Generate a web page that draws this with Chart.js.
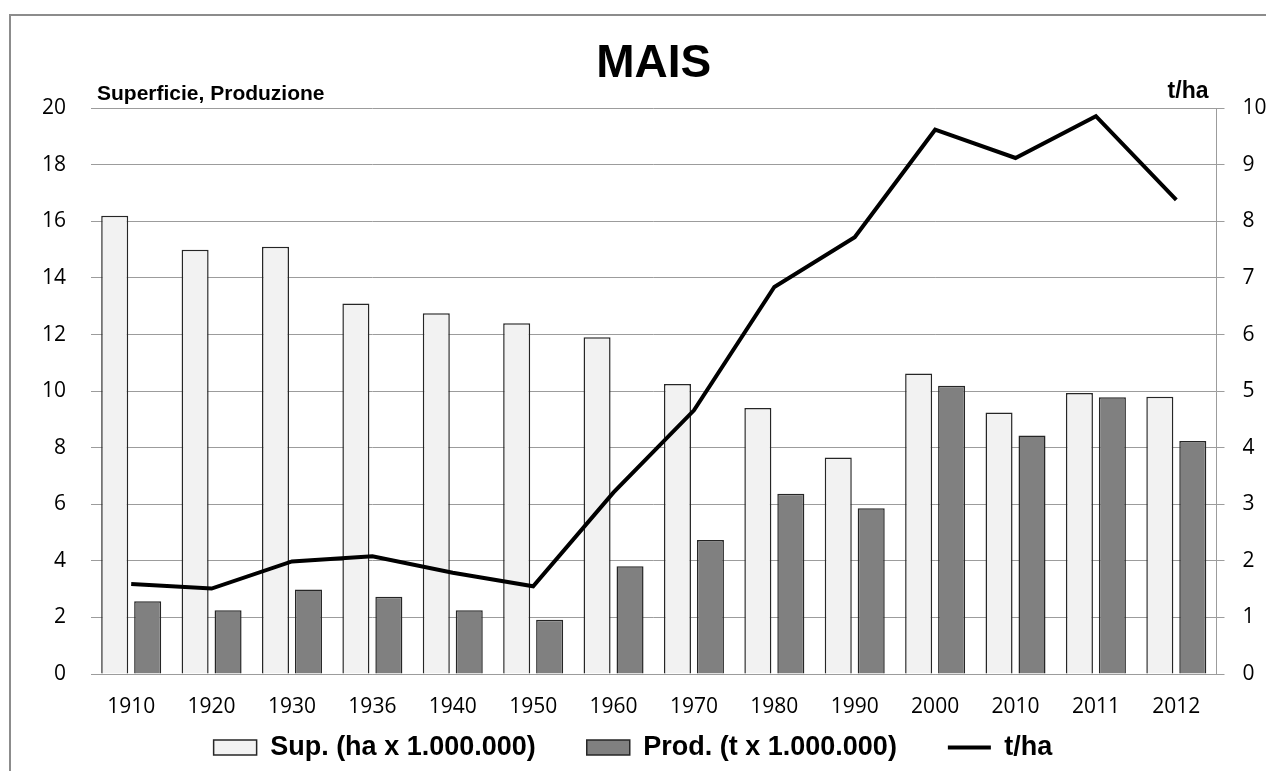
<!DOCTYPE html>
<html>
<head>
<meta charset="utf-8">
<script src="https://cdn.jsdelivr.net/npm/chart.js@4/dist/chart.umd.min.js"></script>
<style>
  html, body { margin: 0; padding: 0; background: #ffffff; }
  #wrap { width: 1266px; height: 771px; }
</style>
</head>
<body>
<div id="wrap"><canvas id="c" width="1266" height="771"></canvas></div>
<script>
// ---- data ----
const categories = ['1910','1920','1930','1936','1940','1950','1960','1970','1980','1990','2000','2010','2011','2012'];
const superficie = [16.2, 15.0, 15.1, 13.1, 12.75, 12.4, 11.9, 10.25, 9.4, 7.65, 10.62, 9.24, 9.93, 9.8];
const produzione = [2.57, 2.25, 2.99, 2.73, 2.25, 1.92, 3.81, 4.74, 6.37, 5.86, 10.19, 8.43, 9.78, 8.24];
const resa = [1.59, 1.51, 1.99, 2.08, 1.79, 1.55, 3.21, 4.66, 6.84, 7.72, 9.62, 9.12, 9.86, 8.38];
const seriesNames = ['Sup. (ha x 1.000.000)', 'Prod. (t x 1.000.000)', 't/ha'];
const chartTitle = 'MAIS';
const leftAxisTitle = 'Superficie, Produzione';
const rightAxisTitle = 't/ha';

const GRID = '#9c9c9c';
const BAR_BORDER = '#262626';
const BOLD_FONT = '"Liberation Sans", Arial, sans-serif';
const TICK_FONT = '"Open Sans", "DejaVu Sans", sans-serif';

const framePlugin = {
  id: 'frame',
  beforeDraw(chart) {
    const ctx = chart.ctx;
    ctx.save();
    ctx.fillStyle = '#ffffff';
    ctx.fillRect(0, 0, chart.width, chart.height);
    ctx.strokeStyle = '#8c8c8c';
    ctx.lineWidth = 2;
    ctx.strokeRect(10, 15, chart.width + 20, chart.height + 20);
    ctx.restore();
  },
  afterDraw(chart) {
    const ctx = chart.ctx;
    const a = chart.chartArea;
    ctx.save();
    ctx.fillStyle = '#000000';
    ctx.textBaseline = 'alphabetic';
    ctx.textAlign = 'left';
    ctx.font = 'bold 21px ' + BOLD_FONT;
    ctx.fillText(leftAxisTitle, a.left + 6, a.top - 8);
    ctx.textAlign = 'right';
    ctx.font = 'bold 23px ' + BOLD_FONT;
    ctx.fillText(rightAxisTitle, a.right - 8, a.top - 10);
    ctx.restore();
  }
};

new Chart(document.getElementById('c'), {
  data: {
    labels: categories,
    datasets: [
      {
        type: 'bar', label: seriesNames[0], data: superficie, yAxisID: 'y', order: 1,
        backgroundColor: '#f2f2f2', borderColor: BAR_BORDER, borderWidth: 1.5,
        categoryPercentage: 0.82, barPercentage: 0.82
      },
      {
        type: 'bar', label: seriesNames[1], data: produzione, yAxisID: 'y', order: 1,
        backgroundColor: '#808080', borderColor: BAR_BORDER, borderWidth: 1.5,
        categoryPercentage: 0.82, barPercentage: 0.82
      },
      {
        type: 'line', label: seriesNames[2], data: resa, yAxisID: 'y1', order: 0,
        borderColor: '#000000', backgroundColor: '#000000', borderWidth: 4,
        pointRadius: 0, tension: 0, fill: false, borderJoinStyle: 'miter'
      }
    ]
  },
  options: {
    responsive: false,
    animation: false,
    devicePixelRatio: 1,
    layout: { padding: { left: 0, right: 0, top: 0, bottom: 0 } },
    plugins: {
      tooltip: { enabled: false },
      title: {
        display: true, text: chartTitle, color: '#000000', fullSize: false,
        font: { family: BOLD_FONT, size: 46, weight: 'bold' },
        padding: { top: 37, bottom: 16 }
      },
      legend: {
        position: 'bottom',
        labels: {
          color: '#000000',
          font: { family: BOLD_FONT, size: 27, weight: 'bold' },
          usePointStyle: true,
          pointStyleWidth: 43,
          boxHeight: 15,
          padding: 51,
          sort: (a, b) => a.datasetIndex - b.datasetIndex,
          generateLabels(chart) {
            const items = Chart.defaults.plugins.legend.labels.generateLabels(chart);
            items.forEach(it => {
              if (it.datasetIndex === 2) {
                it.pointStyle = 'line';
                it.lineWidth = 4;
                it.strokeStyle = '#000000';
              } else {
                it.pointStyle = 'rect';
                it.lineWidth = 1.5;
                it.strokeStyle = BAR_BORDER;
              }
            });
            return items;
          }
        }
      }
    },
    scales: {
      x: {
        grid: { display: false, drawTicks: false },
        border: { display: true, color: GRID, width: 1 },
        ticks: { color: '#000000', font: { family: TICK_FONT, size: 21 }, padding: 20.5, maxRotation: 0, autoSkip: false },
        afterFit(axis) {
          axis.height = 9;
          // let the category labels draw below the (short) axis box
          axis._computeLabelArea = function () { return undefined; };
        }
      },
      y: {
        position: 'left', min: 0, max: 20,
        grid: { color: GRID, lineWidth: 1, drawTicks: false },
        border: { display: false },
        ticks: { stepSize: 2, color: '#000000', font: { family: TICK_FONT, size: 21 }, padding: 25 },
        afterFit(axis) { axis.width = 91; }
      },
      y1: {
        position: 'right', min: 0, max: 10,
        grid: { drawOnChartArea: false, drawTicks: true, tickLength: 8, color: GRID },
        border: { display: true, color: GRID, width: 1 },
        ticks: { stepSize: 1, color: '#000000', font: { family: TICK_FONT, size: 21 }, padding: 18 },
        afterFit(axis) { axis.width = 49.5; }
      }
    }
  },
  plugins: [framePlugin]
});
</script>
</body>
</html>
